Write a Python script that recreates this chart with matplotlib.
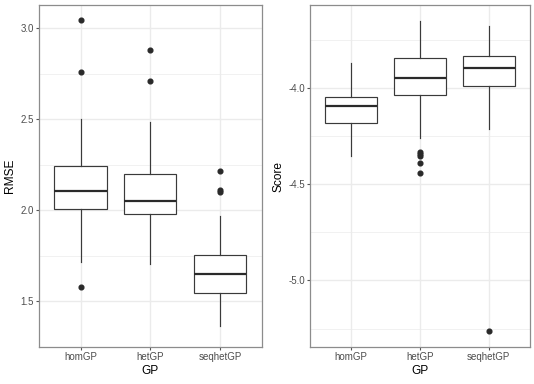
import matplotlib
matplotlib.use("Agg")
import matplotlib.pyplot as plt

plt.rcParams['font.family'] = ['Liberation Sans', 'DejaVu Sans']

categories = ["homGP", "hetGP", "seqhetGP"]

# RMSE panel: whisker low, Q1, median, Q3, whisker high
rmse_whislo = [1.718, 1.703, 1.363]
rmse_q1 = [2.007, 1.978, 1.549]
rmse_med = [2.104, 2.050, 1.653]
rmse_q3 = [2.245, 2.200, 1.757]
rmse_whishi = [2.500, 2.486, 1.971]
rmse_fliers = [[3.043, 2.761, 1.577], [2.878, 2.710], [2.214, 2.113, 2.101]]

# Score panel
score_whislo = [-4.351, -4.258, -4.215]
score_q1 = [-4.183, -4.038, -3.988]
score_med = [-4.093, -3.948, -3.896]
score_q3 = [-4.045, -3.844, -3.832]
score_whishi = [-3.872, -3.649, -3.678]
score_fliers = [[], [-4.334, -4.344, -4.354, -4.391, -4.443], [-5.265]]

rmse_ticks = [1.5, 2.0, 2.5, 3.0]
rmse_minor = [1.25, 1.75, 2.25, 2.75]
score_ticks = [-5.0, -4.5, -4.0]
score_minor = [-5.25, -4.75, -4.25, -3.75]

fig = plt.figure(figsize=(5.34, 3.84), dpi=100)
ax1 = fig.add_axes([38.7 / 534, 1 - 347 / 384, (261.7 - 38.7) / 534, 342 / 384])
ax2 = fig.add_axes([310 / 534, 1 - 347 / 384, (530 - 310) / 534, 342 / 384])

edge = "#3a3a3a"
grid_c = "#ebebeb"


def make_stats(lo, q1, med, q3, hi, fl):
    return [dict(whislo=lo[i], q1=q1[i], med=med[i], q3=q3[i], whishi=hi[i],
                 fliers=fl[i]) for i in range(len(lo))]


def draw(ax, stats, ylabel, ticks, minor, ylim):
    ax.set_facecolor("white")
    ax.bxp(stats, positions=[1, 2, 3], widths=0.75, showcaps=False,
           patch_artist=True,
           boxprops=dict(facecolor="white", edgecolor=edge, linewidth=0.85),
           medianprops=dict(color="#2a2a2a", linewidth=1.6),
           whiskerprops=dict(color=edge, linewidth=0.85),
           flierprops=dict(marker="o", markerfacecolor="#2a2a2a", markeredgecolor="#2a2a2a",
                           markersize=3.4, linestyle="none"),
           zorder=3)
    ax.set_xlim(0.4, 3.6)
    ax.set_ylim(*ylim)
    ax.set_xticks([1, 2, 3])
    ax.set_xticklabels(categories)
    ax.set_yticks(ticks)
    ax.set_yticklabels([f"{t:.1f}" for t in ticks])
    ax.set_yticks(minor, minor=True)
    ax.tick_params(axis="both", which="major", length=2.0, width=0.8, color="#555555",
                   labelsize=7.0, labelcolor="#4d4d4d", pad=1.5)
    ax.tick_params(axis="y", which="minor", length=0)
    ax.grid(True, which="major", color=grid_c, linewidth=1.0, zorder=0)
    ax.grid(True, which="minor", axis="y", color=grid_c, linewidth=0.5, zorder=0)
    ax.set_axisbelow(True)
    for s in ax.spines.values():
        s.set_color("#8c8c8c")
        s.set_linewidth(0.9)
    ax.set_xlabel("GP", fontsize=8.6, color="black", labelpad=2)
    ax.set_ylabel(ylabel, fontsize=8.6, color="black", labelpad=3)


draw(ax1, make_stats(rmse_whislo, rmse_q1, rmse_med, rmse_q3, rmse_whishi, rmse_fliers),
     "RMSE", rmse_ticks, rmse_minor, (1.279, 3.127))
draw(ax2, make_stats(score_whislo, score_q1, score_med, score_q3, score_whishi, score_fliers),
     "Score", score_ticks, score_minor, (-5.346, -3.568))

fig.savefig("out.png", dpi=100)
